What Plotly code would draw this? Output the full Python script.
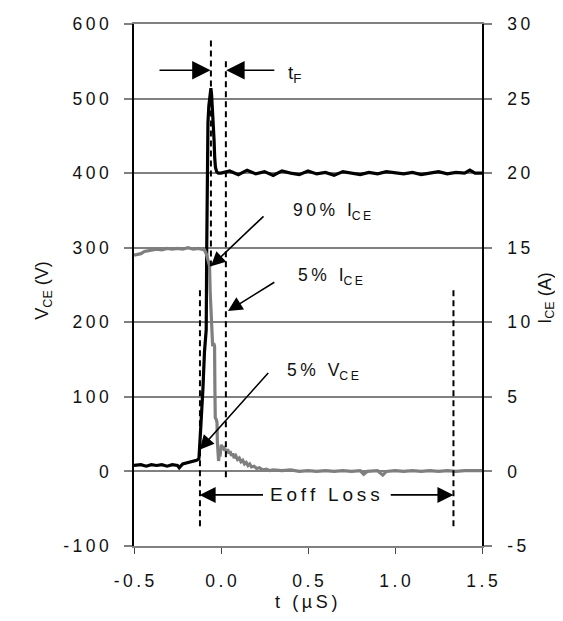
import plotly.graph_objects as go

# ---------------- data ----------------
t_vce = [-0.50, -0.46, -0.43, -0.40, -0.37, -0.34, -0.31, -0.28, -0.25, -0.24,
         -0.22, -0.20, -0.18, -0.16, -0.14, -0.133, -0.127, -0.12, -0.112, -0.104,
         -0.095, -0.09, -0.085, -0.082, -0.079, -0.075, -0.07, -0.065, -0.058, -0.054,
         -0.05, -0.045, -0.04, -0.036, -0.032, -0.025, -0.015,
         0.00, 0.05, 0.10, 0.15, 0.20, 0.25, 0.30, 0.35, 0.40, 0.45,
         0.50, 0.55, 0.60, 0.65, 0.70, 0.75, 0.80, 0.85, 0.90, 0.95,
         1.00, 1.05, 1.10, 1.15, 1.20, 1.25, 1.30, 1.35, 1.40, 1.43, 1.46, 1.50]
v_vce = [8, 9, 7, 9, 8, 9, 7, 9, 8, 5,
         10, 11, 12, 13, 15, 16, 17, 44, 70, 110,
         160, 172, 190, 300, 407, 468, 490, 502, 514, 505,
         490, 470, 445, 420, 408, 402, 400,
         400, 403, 398, 404, 399, 402, 397, 403, 400, 398,
         403, 399, 401, 397, 402, 400, 398, 401, 399, 402,
         400, 399, 401, 398, 400, 402, 399, 401, 400, 404, 400, 400]

t_ice = [-0.50, -0.48, -0.46, -0.44, -0.42, -0.40, -0.37, -0.34, -0.31, -0.28,
         -0.25, -0.22, -0.19, -0.16, -0.13, -0.11, -0.095, -0.085, -0.075, -0.066,
         -0.062, -0.055, -0.048, -0.042, -0.037, -0.035, -0.033, -0.028, -0.023, -0.021,
         -0.018, -0.014, -0.01, -0.006, -0.002, 0.002, 0.006, 0.01, 0.014, 0.02,
         0.026, 0.032, 0.038, 0.045, 0.052, 0.06, 0.068, 0.076,
         0.085, 0.095, 0.105, 0.115, 0.125, 0.135, 0.145, 0.155, 0.165, 0.175,
         0.19, 0.205, 0.22, 0.24, 0.26, 0.28, 0.30, 0.35, 0.40, 0.45,
         0.50, 0.55, 0.60, 0.65, 0.70, 0.75, 0.80, 0.82, 0.84, 0.90,
         0.93, 0.95, 1.00, 1.05, 1.10, 1.15, 1.20, 1.25, 1.30, 1.35,
         1.40, 1.45, 1.50]
i_ice = [14.5, 14.55, 14.6, 14.75, 14.8, 14.85, 14.9, 14.85, 14.95, 14.9,
         14.95, 14.9, 15.0, 14.9, 14.95, 14.9, 14.85, 14.6, 14.2, 13.8,
         12.0, 10.0, 8.4, 8.6, 8.4, 5.5, 3.6, 3.5, 3.3, 2.0,
         0.8, 0.7, 1.2, 1.0, 1.4, 1.8, 1.6, 1.5, 1.7, 1.4,
         1.5, 1.3, 1.5, 1.2, 1.35, 1.05, 1.2, 0.9,
         1.05, 0.8, 0.9, 0.65, 0.75, 0.5, 0.6, 0.4, 0.5, 0.3,
         0.35, 0.2, 0.25, 0.1, 0.15, 0.05, 0.1, 0.05, 0.1, 0.0,
         0.05, 0.0, 0.05, 0.0, 0.05, 0.0, 0.05, -0.2, 0.0, 0.05,
         -0.25, 0.0, 0.05, 0.0, 0.05, 0.0, 0.05, 0.0, 0.05, 0.0,
         0.05, 0.05, 0.05]

x_ticks = [-0.5, 0.0, 0.5, 1.0, 1.5]
x_tick_labels = ["-0.5", "0.0", "0.5", "1.0", "1.5"]
v_ticks = [-100, 0, 100, 200, 300, 400, 500, 600]
v_tick_labels = ["-100", "0", "100", "200", "300", "400", "500", "600"]
i_ticks = [-5, 0, 5, 10, 15, 20, 25, 30]
i_tick_labels = ["-5", "0", "5", "10", "15", "20", "25", "30"]

# marker (dashed) lines: time, V start, V end
mark_t = [-0.058, 0.028, -0.121, 1.336]
mark_v0 = [578, 550, 243, 243]
mark_v1 = [275, -9, -79, -79]

FONT = "Liberation Sans, Arial, Helvetica, sans-serif"
TXT = "#111111"
GRID = "#808080"
SP = "\u2009"
GAP = SP + " " + SP


def spaced(s):
    return SP.join(list(s))


fig = go.Figure()
fig.add_trace(go.Scatter(x=t_vce, y=v_vce, mode="lines", yaxis="y",
                         line=dict(color="#000000", width=3.2), showlegend=False))
fig.add_trace(go.Scatter(x=t_ice, y=i_ice, mode="lines", yaxis="y2",
                         line=dict(color="#7f7f7f", width=3.2), showlegend=False))

shapes = []
for t, a, b in zip(mark_t, mark_v0, mark_v1):
    shapes.append(dict(type="line", xref="x", yref="y", x0=t, x1=t, y0=a, y1=b,
                       line=dict(color="#000000", width=2, dash="6px,4px")))

ann = []


def arrow(x, y, ax, ay, size=1.8):
    ann.append(dict(x=x, y=y, ax=ax, ay=ay, xref="x", yref="y", axref="x", ayref="y",
                    text="", showarrow=True, arrowhead=2, arrowsize=size,
                    arrowwidth=1.6, arrowcolor="#000000", standoff=0))


def label(x, y, text, size=17.5):
    ann.append(dict(x=x, y=y, xref="x", yref="y", text=text, showarrow=False,
                    xanchor="left", yanchor="middle",
                    font=dict(family=FONT, size=size, color=TXT)))


# t_F arrows
arrow(-0.06, 538, -0.362, 538, 2.3)
arrow(0.030, 538, 0.315, 538, 2.3)
label(0.372, 533, "t<sub>F</sub>", 19)
# 90% ICE
arrow(-0.058, 275, 0.253, 344)
label(0.40, 348, spaced("90%") + GAP + "I<sub>" + spaced("CE") + "</sub>")
# 5% ICE
arrow(0.040, 215, 0.315, 255)
label(0.43, 262, spaced("5%") + GAP + "I<sub>" + spaced("CE") + "</sub>")
# 5% VCE
arrow(-0.123, 29, 0.279, 134)
label(0.365, 134, spaced("5%") + GAP + "V<sub>" + spaced("CE") + "</sub>")
# Eoff loss
arrow(-0.123, -31.5, 0.25, -31.5, 2.0)
arrow(1.336, -31.5, 0.967, -31.5, 2.0)
ann.append(dict(x=0.596, y=-31.5, xref="x", yref="y", text=spaced("Eoff") + GAP + spaced("Loss"),
                showarrow=False, xanchor="center", yanchor="middle",
                font=dict(family=FONT, size=19, color=TXT)))

# axis titles
ann.append(dict(x=-0.299, y=0.49, xref="paper", yref="paper", textangle=-90,
                text="V<sub>CE</sub> (V)", showarrow=False,
                font=dict(family=FONT, size=18, color=TXT)))
ann.append(dict(x=1.222, y=0.475, xref="paper", yref="paper", textangle=-90,
                text="I<sub>CE</sub> (A)", showarrow=False,
                font=dict(family=FONT, size=18, color=TXT)))
ann.append(dict(x=0.494, y=-0.131, xref="paper", yref="paper",
                text=spaced("t") + GAP + spaced("(µS)"), showarrow=False,
                font=dict(family=FONT, size=18, color=TXT)))

tickfont = dict(family=FONT, size=17.5, color=TXT)

fig.update_layout(
    width=563, height=621,
    margin=dict(l=126, r=89, t=16, b=83, autoexpand=False),
    paper_bgcolor="white", plot_bgcolor="white",
    shapes=shapes, annotations=ann,
    xaxis=dict(range=[-0.5, 1.5], tickvals=x_ticks,
               ticktext=[spaced(s) for s in x_tick_labels],
               showgrid=False, zeroline=False, showline=True, linecolor=GRID,
               linewidth=1.5, mirror=True, ticks="outside", ticklen=6,
               tickcolor="#444444", tickwidth=1, tickfont=tickfont,
               ticklabelstandoff=12),
    yaxis=dict(range=[-100, 600], tickvals=v_ticks,
               ticktext=[spaced(s) for s in v_tick_labels],
               showgrid=True, gridcolor=GRID, gridwidth=1.5, zeroline=False,
               showline=True, linecolor="#000000", linewidth=1.5,
               ticks="outside", ticklen=8, tickcolor=GRID, tickwidth=1.5,
               tickfont=tickfont, ticklabelstandoff=12),
    yaxis2=dict(range=[-5, 30], tickvals=i_ticks,
                ticktext=[spaced(s) for s in i_tick_labels],
                overlaying="y", side="right", showgrid=False, zeroline=False,
                showline=True, linecolor="#000000", linewidth=1.5,
                ticks="outside", ticklen=8, tickcolor=GRID, tickwidth=1.5,
                tickfont=tickfont, ticklabelstandoff=12),
)

fig.write_html("out.html")
